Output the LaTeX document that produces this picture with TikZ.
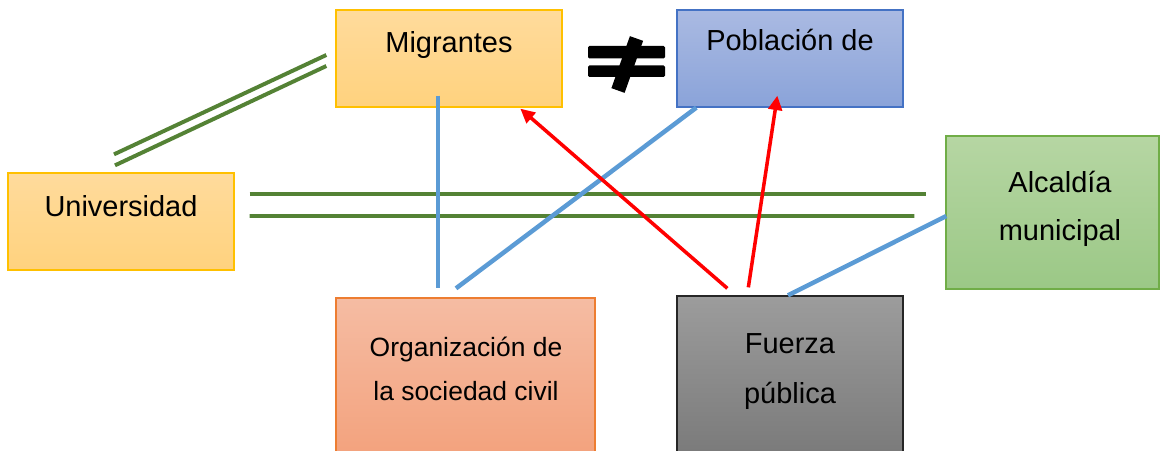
\documentclass[tikz,border=0pt]{standalone}
\usepackage{fontspec}
\setmainfont{Liberation Sans}
\usepackage{tikz}
\usetikzlibrary{arrows.meta,calc}
\definecolor{AmberEdge}{HTML}{FFC000}
\definecolor{AmberTop}{HTML}{FFDB9C}
\definecolor{AmberBot}{HTML}{FFD27E}
\definecolor{BlueEdge}{HTML}{4472C4}
\definecolor{BlueTop}{HTML}{AABAE2}
\definecolor{BlueBot}{HTML}{8AA3D9}
\definecolor{LeafEdge}{HTML}{70AD47}
\definecolor{LeafTop}{HTML}{B6D6A3}
\definecolor{LeafBot}{HTML}{9BC886}
\definecolor{RustEdge}{HTML}{ED7D31}
\definecolor{RustTop}{HTML}{F5BCA3}
\definecolor{RustBot}{HTML}{F3A27D}
\definecolor{SteelTop}{HTML}{9C9C9C}
\definecolor{SteelBot}{HTML}{7A7A7A}
\definecolor{TieGreen}{HTML}{548235}
\definecolor{LinkBlue}{HTML}{5B9BD5}

\begin{document}
\begin{tikzpicture}[
    x=0.025cm, y=-0.025cm,
    actor/.style={line width=0.9pt, minimum width=5.65cm, minimum height=2.425cm,
      inner sep=0pt},
    lbl/.style={anchor=base, align=center, font=\fontsize{20.6}{35.5}\selectfont},
    tie/.style={line width=2.8pt, color=TieGreen},
    link/.style={line width=3.2pt, color=LinkBlue},
    push/.style={-{Triangle[length=3.6mm,width=3.4mm]}, line width=2.5pt, color=red}
  ]
    \useasboundingbox (0,0) rectangle (1161,451);
    % actores
    \node[actor, draw=AmberEdge, top color=AmberTop, bottom color=AmberBot] (migr) at (449,58.5) {};
    \node[actor, draw=BlueEdge, top color=BlueTop, bottom color=BlueBot] (pobl) at (790,58.5) {};
    \node[actor, draw=AmberEdge, top color=AmberTop, bottom color=AmberBot] (univ) at (121,221.5) {};
    \node[actor, draw=LeafEdge, top color=LeafTop, bottom color=LeafBot,
      minimum width=5.325cm, minimum height=3.825cm] (alca) at (1052.5,212.5) {};
    \node[actor, draw=RustEdge, top color=RustTop, bottom color=RustBot,
      minimum width=6.475cm, minimum height=3.95cm] (orga) at (465.5,377) {};
    \node[actor, draw=black!85, top color=SteelTop, bottom color=SteelBot,
      minimum height=4cm] (fuer) at (790,376) {};
    % textos (base = ultima linea)
    \node[lbl] (migrtxt) at (449,53) {Migrantes};
    \node[lbl] (pobltxt) at (790,51) {Población de};
    \node[lbl] (univtxt) at (121,217) {Universidad};
    \node[lbl, font=\fontsize{20.6}{34.7}\selectfont] (alcatxt) at (1060,241) {Alcaldía\\municipal};
    \node[lbl, font=\fontsize{18.8}{31.2}\selectfont] (orgatxt) at (466,400) {Organización de\\la sociedad civil};
    \node[lbl] (fuertxt) at (790,403) {Fuerza\\pública};
    % distinto de
    \fill[rounded corners=1pt] (588,46) rectangle (665,58.5);
    \fill[rounded corners=1pt] (588,65.5) rectangle (665,77);
    \draw[line width=3.5mm] (636.5,38.5) -- (618,90.5);
    % relaciones
    \draw[tie] ($(univ.north)+(-7,-18)$) -- ($(migr.west)+(-9,-3.5)$);
    \draw[tie] ($(univ.north)+(-6,-7)$) -- ($(migr.west)+(-9,7.5)$);
    \draw[tie] ($(univ.east)+(15,-27.5)$) -- ($(alca.west)+(-19,-18.5)$);
    \draw[tie] ($(univ.east)+(15,-5.5)$) -- ($(alca.west)+(-31,3.5)$);
    \draw[link] ($(migr.south)+(-11,-12)$) -- ($(orga.north)+(-27.5,-9)$);
    \draw[link] ($(orga.north)+(-9.5,-9)$) -- ($(pobl.south west)+(20,0)$);
    \draw[link] ($(fuer.north)+(-2,0)$) -- ($(alca.west)+(1,3.5)$);
    \draw[push] ($(fuer.north west)+(51,-7)$) -- ($(migr.south west)+(185,1)$);
    \draw[push] ($(fuer.north west)+(72,-8)$) -- ($(pobl.south west)+(101,-12)$);
  \end{tikzpicture}
\end{document}
